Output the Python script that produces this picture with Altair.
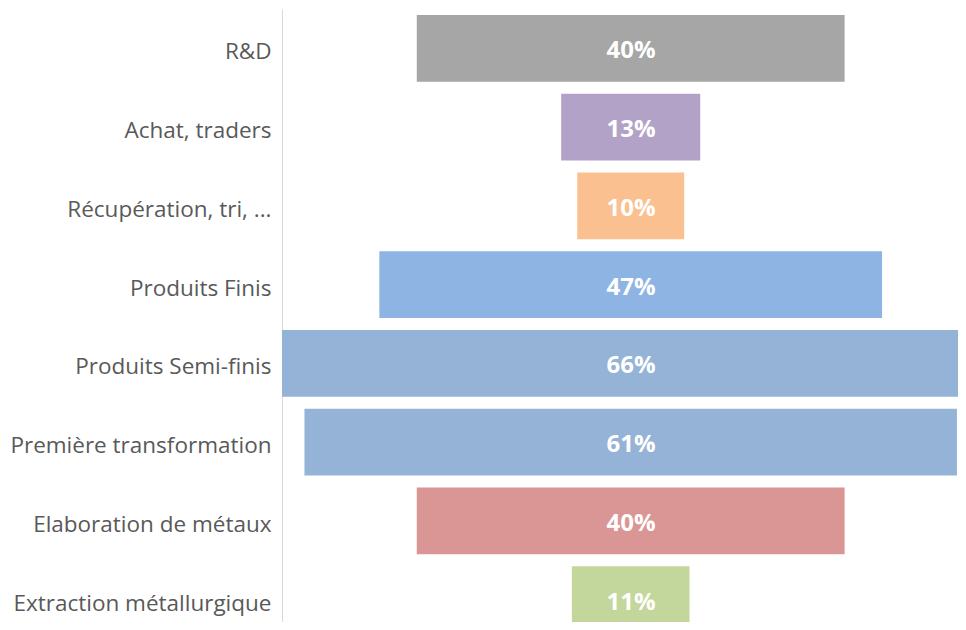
import altair as alt
import pandas as pd

categories = ["R&D", "Achat, traders", "Récupération, tri, ...", "Produits Finis",
              "Produits Semi-finis", "Première transformation",
              "Elaboration de métaux", "Extraction métallurgique"]
values = [40, 13, 10, 47, 66, 61, 40, 11]
colors = ["#a6a6a6", "#b3a2c7", "#fac090", "#8eb4e3", "#95b3d7", "#95b3d7", "#d99694", "#c3d69b"]

df = pd.DataFrame({"cat": categories, "val": values, "color": colors})
df["lo"] = -df["val"] / 2
df["hi"] = df["val"] / 2
df["label"] = df["val"].astype(str) + "%"

y = alt.Y("cat:N", sort=categories,
          scale=alt.Scale(range=[0, 630], paddingInner=0.15, paddingOuter=0.075),
          axis=alt.Axis(title=None, ticks=False, domainColor="#d9d9d9", domainWidth=1,
                        labelFont="Open Sans", labelFontSize=22.5, labelColor="#595959",
                        labelPadding=11, labelLimit=400, labelOffset=4))
xs = alt.Scale(domain=[-32.6, 30.6], nice=False, zero=False)

bars = alt.Chart(df).mark_bar(clip=True, cornerRadius=0).encode(
    y=y,
    x=alt.X("lo:Q", scale=xs, axis=None),
    x2="hi:Q",
    color=alt.Color("color:N", scale=None),
)
text = alt.Chart(df).mark_text(font="Open Sans", fontSize=24, fontWeight="bold",
                               color="white", dy=3).encode(
    y=alt.Y("cat:N", sort=categories),
    x=alt.value(349),
    text="label:N",
)

chart = (bars + text).properties(
    width=676, height=613,
    autosize=alt.AutoSizeParams(type="none"),
    padding={"left": 274, "top": 1, "right": 0, "bottom": 0},
).configure_view(stroke=None)

chart.save("out.html", embed_options={"renderer": "svg", "actions": False})
